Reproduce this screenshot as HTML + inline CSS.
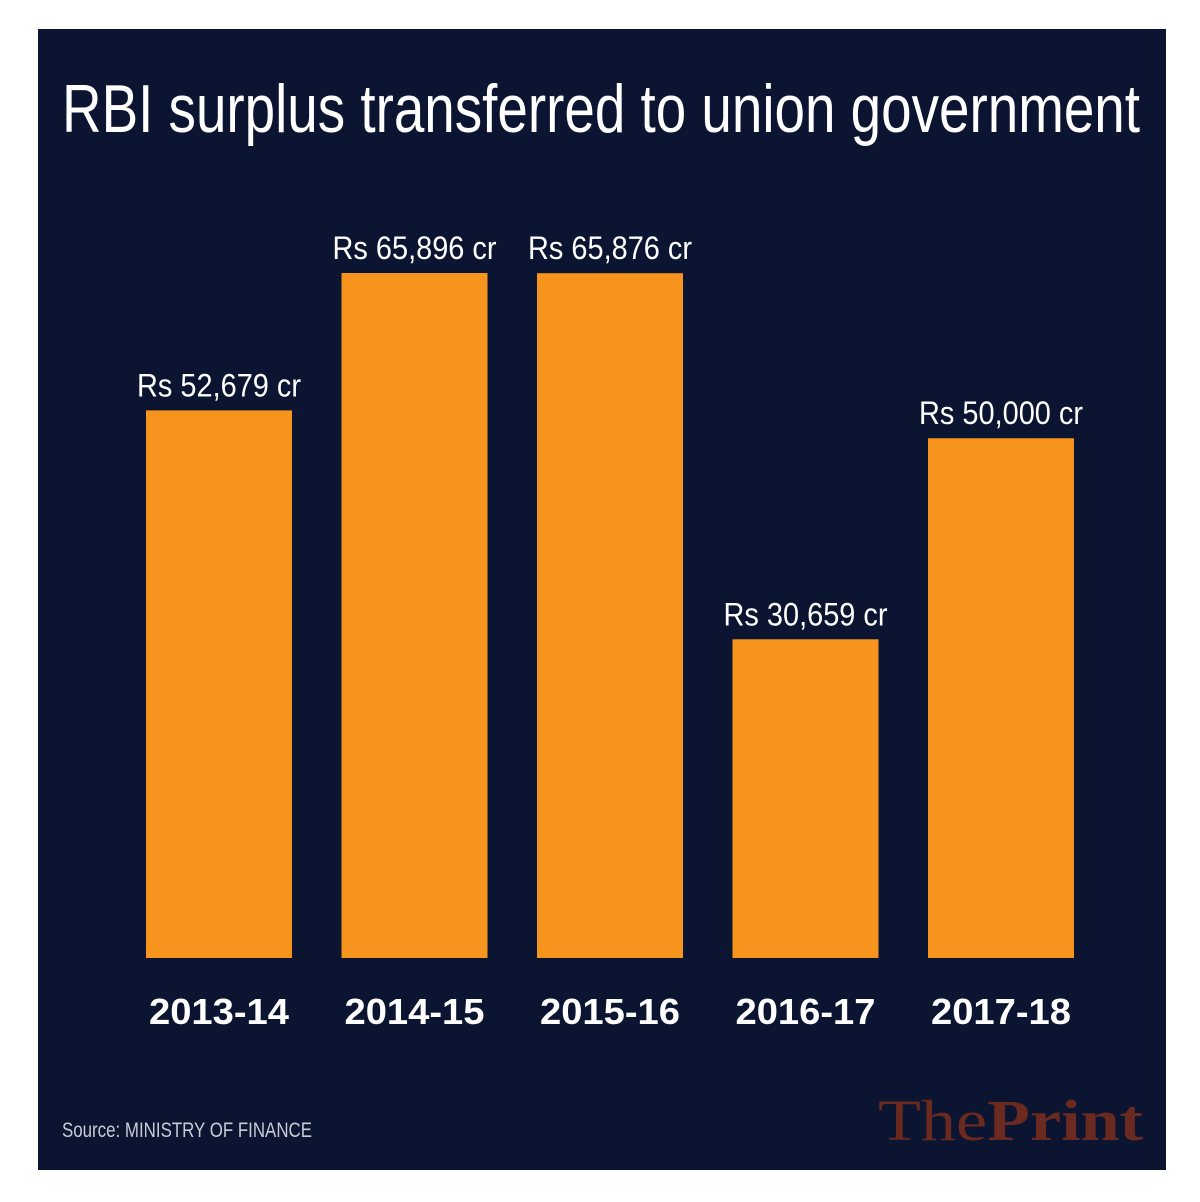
<!DOCTYPE html>
<html><head><meta charset="utf-8"><style>
html,body{margin:0;padding:0;background:#fff;width:1200px;height:1202px;overflow:hidden}
svg{display:block}
</style></head><body>
<svg id="chart" width="1200" height="1202" xmlns="http://www.w3.org/2000/svg">
<rect x="38" y="29" width="1128" height="1141" fill="#0b1430"/>
<text x="62" y="132" font-family="'Liberation Sans Narrow','Liberation Sans',sans-serif" font-size="68" fill="#fff" textLength="1078" lengthAdjust="spacingAndGlyphs">RBI surplus transferred to union government</text>
<g id="bars"></g>
<text x="62" y="1137" font-family="'Liberation Sans Narrow','Liberation Sans',sans-serif" font-size="21" fill="#c8ccd6" textLength="250" lengthAdjust="spacingAndGlyphs">Source: MINISTRY OF FINANCE</text>
<text x="878" y="1140" font-family="'Liberation Serif',serif" font-size="58" fill="#6b2a1f" textLength="265" lengthAdjust="spacingAndGlyphs">The<tspan font-weight="bold">Print</tspan></text>
</svg>
<script>
const categories = ["2013-14","2014-15","2015-16","2016-17","2017-18"];
const values = [52679, 65896, 65876, 30659, 50000];
const valueLabels = ["Rs 52,679 cr","Rs 65,896 cr","Rs 65,876 cr","Rs 30,659 cr","Rs 50,000 cr"];

const baseY = 958, pxPerUnit = 685 / 65896;
const firstX = 146, step = 195.5, barW = 146;
function yScale(v){ return baseY - v * pxPerUnit; }
function xScale(i){ return firstX + i * step; }

const NS = "http://www.w3.org/2000/svg";
const g = document.getElementById("bars");
categories.forEach((c, i) => {
  const x = xScale(i), y = yScale(values[i]);
  const r = document.createElementNS(NS, "rect");
  
  
  r.setAttribute("x", x); r.setAttribute("y", y);
  r.setAttribute("width", barW); r.setAttribute("height", baseY - y);
  r.setAttribute("fill", "#f7941d");
  g.appendChild(r);

  const t = document.createElementNS(NS, "text");
  
  
  t.setAttribute("x", x + barW / 2); t.setAttribute("y", y - 14);
  t.setAttribute("text-anchor", "middle");
  t.setAttribute("font-family", "'Liberation Sans Narrow','Liberation Sans',sans-serif");
  t.setAttribute("font-size", "32"); t.setAttribute("fill", "#fff");
  t.setAttribute("textLength", "164"); t.setAttribute("lengthAdjust", "spacingAndGlyphs");
  t.textContent = valueLabels[i];
  g.appendChild(t);

  const xl = document.createElementNS(NS, "text");
  
  
  xl.setAttribute("x", x + barW / 2); xl.setAttribute("y", 1024);
  xl.setAttribute("text-anchor", "middle");
  xl.setAttribute("font-family", "'Liberation Sans',sans-serif");
  xl.setAttribute("font-weight", "bold");
  xl.setAttribute("font-size", "36"); xl.setAttribute("fill", "#fff");
  xl.setAttribute("textLength", "140"); xl.setAttribute("lengthAdjust", "spacingAndGlyphs");
  xl.textContent = c;
  g.appendChild(xl);
});
</script>
</body></html>
